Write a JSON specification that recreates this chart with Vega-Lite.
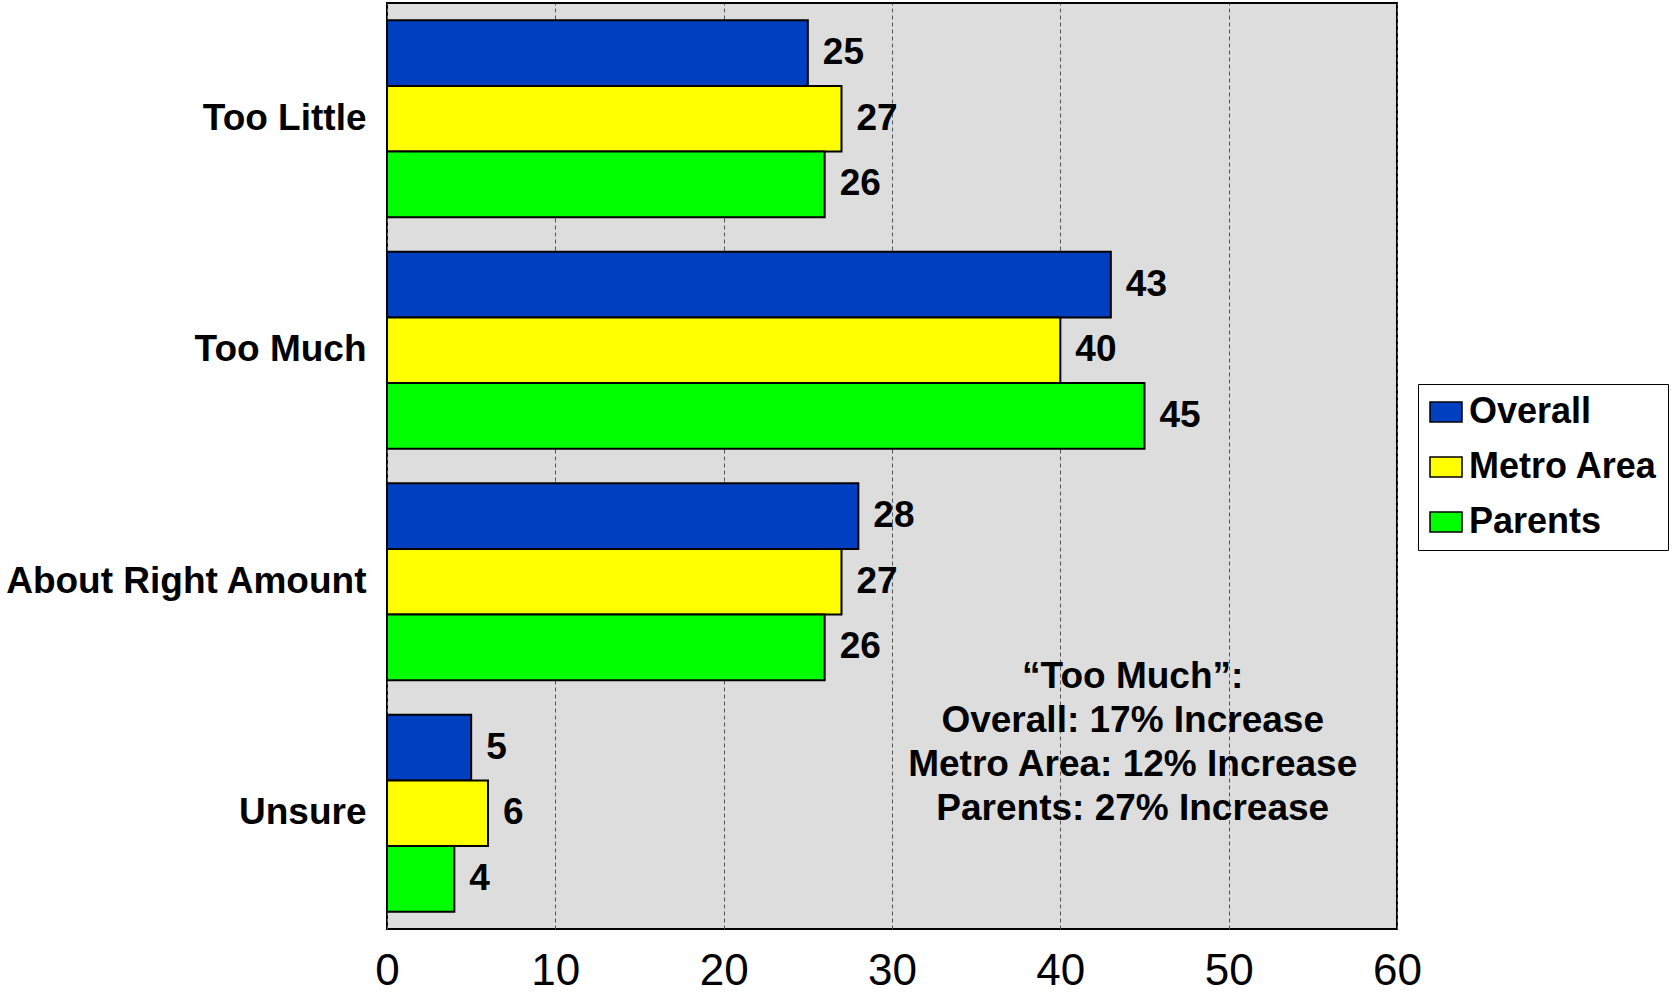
{
  "$schema": "https://vega.github.io/schema/vega-lite/v6.json",
  "autosize": {"type": "none"},
  "width": 1010,
  "height": 926,
  "padding": {"left": 387, "top": 3, "right": 277, "bottom": 67},
  "background": "white",
  "config": {
    "view": {"fill": "#DDDDDD", "stroke": "black", "strokeWidth": 2},
    "font": "Liberation Sans"
  },
  "data": {
    "values": [
      {"response": "Too Little", "group": "Overall", "value": 25},
      {"response": "Too Little", "group": "Metro Area", "value": 27},
      {"response": "Too Little", "group": "Parents", "value": 26},
      {"response": "Too Much", "group": "Overall", "value": 43},
      {"response": "Too Much", "group": "Metro Area", "value": 40},
      {"response": "Too Much", "group": "Parents", "value": 45},
      {"response": "About Right Amount", "group": "Overall", "value": 28},
      {"response": "About Right Amount", "group": "Metro Area", "value": 27},
      {"response": "About Right Amount", "group": "Parents", "value": 26},
      {"response": "Unsure", "group": "Overall", "value": 5},
      {"response": "Unsure", "group": "Metro Area", "value": 6},
      {"response": "Unsure", "group": "Parents", "value": 4}
    ]
  },
  "layer": [
    {
      "mark": {"type": "bar", "stroke": "black", "strokeWidth": 2},
      "encoding": {
        "y": {
          "field": "response", "type": "nominal",
          "sort": ["Too Little", "Too Much", "About Right Amount", "Unsure"],
          "scale": {"paddingInner": 0.15, "paddingOuter": 0.075},
          "axis": {"title": null, "ticks": false, "domain": false, "labelFontSize": 37, "labelFontWeight": "bold", "labelColor": "black", "labelPadding": 21, "labelLimit": 0}
        },
        "yOffset": {"field": "group", "type": "nominal", "sort": ["Overall", "Metro Area", "Parents"]},
        "x": {
          "field": "value", "type": "quantitative",
          "scale": {"domain": [0, 60]},
          "axis": {"title": null, "ticks": false, "domain": false, "values": [0, 10, 20, 30, 40, 50, 60], "labelFlush": false, "labelFontSize": 44, "labelColor": "black", "labelPadding": 20, "grid": true, "gridColor": "#555555", "gridDash": [4, 3], "gridWidth": 1}
        },
        "color": {
          "field": "group", "type": "nominal",
          "scale": {"domain": ["Overall", "Metro Area", "Parents"], "range": ["#0040C0", "#FFFF00", "#00FF00"]},
          "legend": {
            "title": null, "orient": "none", "legendX": 1031, "legendY": 381,
            "fillColor": "white", "strokeColor": "black", "padding": 10,
            "labelFontSize": 36, "labelFontWeight": "bold", "labelColor": "black", "labelLimit": 0, "labelOffset": 5,
            "symbolType": "M-1.6,-1L1.6,-1L1.6,1L-1.6,1Z", "symbolSize": 400,
            "symbolStrokeColor": "black", "symbolStrokeWidth": 1.5, "symbolOpacity": 1,
            "rowPadding": 19
          }
        }
      }
    },
    {
      "mark": {"type": "text", "align": "left", "baseline": "middle", "dx": 15, "fontWeight": "bold", "fontSize": 37, "color": "black"},
      "encoding": {
        "y": {"field": "response", "type": "nominal", "sort": ["Too Little", "Too Much", "About Right Amount", "Unsure"]},
        "yOffset": {"field": "group", "type": "nominal", "sort": ["Overall", "Metro Area", "Parents"]},
        "x": {"field": "value", "type": "quantitative"},
        "text": {"field": "value", "type": "quantitative"}
      }
    },
    {
      "data": {"values": [{"response": "Unsure", "pos": 44.3, "note": "“Too Much”:|Overall: 17% Increase|Metro Area: 12% Increase|Parents: 27% Increase"}]},
      "mark": {"type": "text", "align": "center", "baseline": "middle", "lineBreak": "|", "lineHeight": 44, "dy": -136, "fontWeight": "bold", "fontSize": 37, "color": "black"},
      "encoding": {
        "y": {"field": "response", "type": "nominal", "sort": ["Too Little", "Too Much", "About Right Amount", "Unsure"]},
        "x": {"field": "pos", "type": "quantitative"},
        "text": {"field": "note"}
      }
    }
  ]
}
